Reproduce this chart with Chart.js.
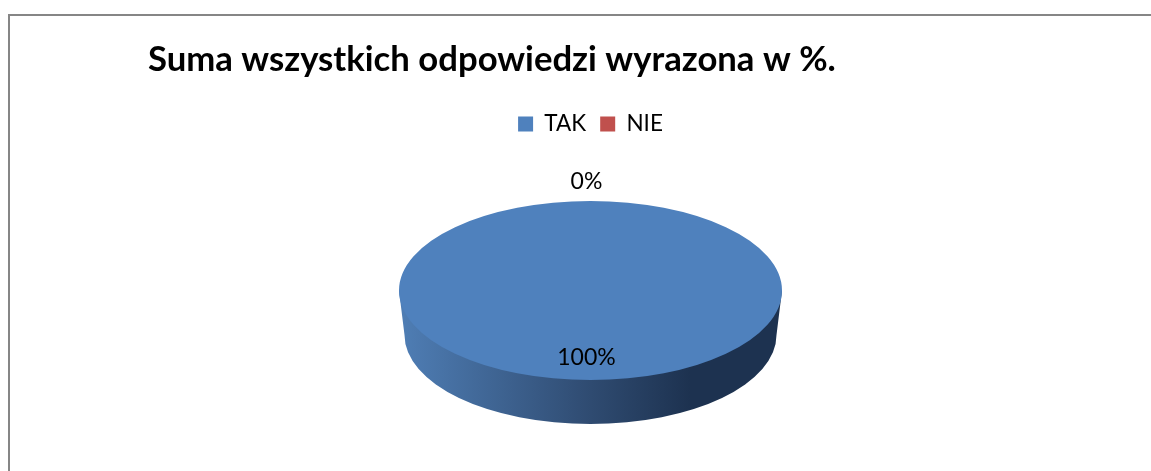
<!DOCTYPE html>
<html>
<head>
<meta charset="utf-8">
<title>Suma wszystkich odpowiedzi</title>
<script src="https://cdn.jsdelivr.net/npm/chart.js@4"></script>
<style>
  html, body { margin: 0; padding: 0; background: #fff; overflow: hidden; }
  #frame { position: absolute; left: 8px; top: 14px; width: 1200px; height: 500px; border: 2px solid #868686; }
  #myChart { position: absolute; left: 0; top: 0; }
</style>
</head>
<body>
<div id="frame"></div>
<canvas id="myChart" width="1151" height="471"></canvas>
<script>
const chartTitle = "Suma wszystkich odpowiedzi wyrazona w %.";
const categories = ["TAK", "NIE"];
const percentValues = [100, 0];
const sliceColors = ["#4f81bd", "#c0504d"];

// ellipse the flat pie gets squashed onto
const pieX = 590.5, pieY = 290.5, pieRx = 191.5, pieRy = 89.5;
// lower rim of the disc
const rimY = 335, rimRx = 186, rimRy = 89;

const pie3d = {
  id: "pie3d",
  beforeDatasetsDraw(chart) {
    const ctx = chart.ctx;
    const arc = chart.getDatasetMeta(0).data[0];

    // side wall
    const side = ctx.createLinearGradient(pieX - pieRx, 0, pieX + pieRx, 0);
    side.addColorStop(0, "#4f7eb5");
    side.addColorStop(0.5, "#2f4b71");
    side.addColorStop(0.76, "#1d3250");
    side.addColorStop(1, "#1d3250");
    ctx.save();
    ctx.beginPath();
    ctx.moveTo(pieX - pieRx, pieY);
    ctx.lineTo(pieX - rimRx, rimY);
    ctx.ellipse(pieX, rimY, rimRx, rimRy, 0, Math.PI, 0, true);
    ctx.lineTo(pieX + pieRx, pieY);
    ctx.closePath();
    ctx.fillStyle = side;
    ctx.fill();
    ctx.restore();

    // top face: same arcs, only scaled
    ctx.save();
    ctx.translate(pieX, pieY);
    ctx.scale(pieRx / arc.outerRadius, pieRy / arc.outerRadius);
    ctx.translate(-arc.x, -arc.y);
  },
  afterDatasetsDraw(chart) {
    const ctx = chart.ctx;
    ctx.restore();

    ctx.save();
    ctx.font = "23px Lato";
    ctx.fillStyle = "#000";
    ctx.textAlign = "center";
    ctx.textBaseline = "middle";
    chart.getDatasetMeta(0).data.forEach((arc, i) => {
      const mid = (arc.startAngle + arc.endAngle) / 2;
      const value = percentValues[i];
      const dist = value > 0 ? 0.75 * pieRy : pieRy + 19;
      ctx.fillText(value + "%", pieX - 4 + Math.cos(mid) * dist, pieY + Math.sin(mid) * dist);
    });
    ctx.restore();
  },
};

new Chart(document.getElementById("myChart"), {
  type: "pie",
  data: {
    labels: categories,
    datasets: [
      {
        data: percentValues,
        backgroundColor: sliceColors,
        borderWidth: 0,
      },
    ],
  },
  options: {
    responsive: false,
    animation: false,
    layout: { padding: { left: 148, right: 118, top: 39, bottom: 0 } },
    plugins: {
      title: {
        display: true,
        text: chartTitle,
        align: "start",
        color: "#000",
        font: { family: "Lato", size: 34.7, weight: "bold" },
        padding: { top: 0, bottom: 18 },
      },
      legend: {
        display: true,
        position: "top",
        labels: {
          boxWidth: 15,
          boxHeight: 15,
          padding: 14,
          color: "#000",
          font: { family: "Lato", size: 22.5 },
        },
      },
      tooltip: { enabled: false },
    },
  },
  plugins: [pie3d],
});
</script>
</body>
</html>
